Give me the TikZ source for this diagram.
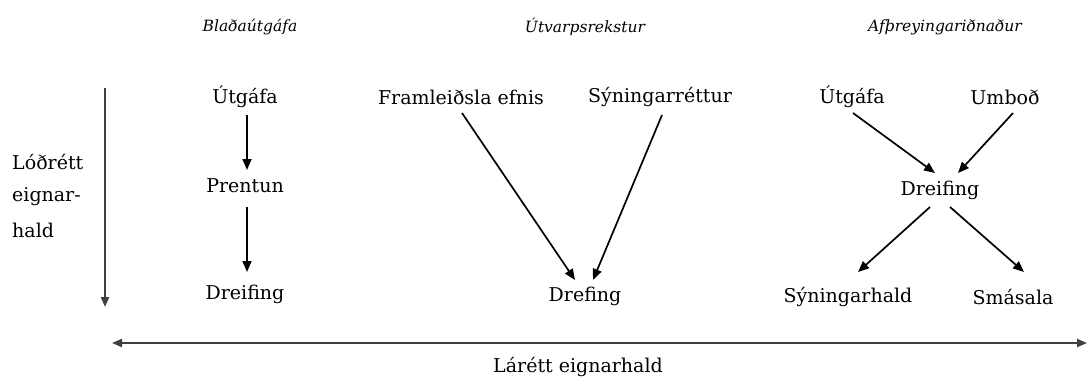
\documentclass[tikz,border=0pt]{standalone}
\usepackage{fontspec}
\setmainfont{DejaVu Serif}
\usetikzlibrary{arrows.meta}
\begin{document}
\begin{tikzpicture}[x=1pt,y=-1pt,
  lbl/.style={inner sep=0pt,font=\fontsize{19}{22}\selectfont},
  hdr/.style={inner sep=0pt,font=\fontsize{15.5}{18}\selectfont\itshape},
  arr/.style={line width=1.7pt,-{Triangle[length=11pt,width=9pt]}},
  axis/.style={line width=2pt,color=black!75}]
\useasboundingbox (0,0) rectangle (1089,383);
% headers
\node[hdr] (h1) at (250,27) {Blaðaútgáfa};
\node[hdr] (h2) at (585,27) {Útvarpsrekstur};
\node[hdr] (h3) at (945,27) {Afþreyingariðnaður};
% vertical axis
\coordinate (vt) at (105,88);
\coordinate (vb) at (105,307);
\draw[axis,-{Triangle[length=10pt,width=8pt]}] (vt) -- (vb);
\node[lbl,anchor=west] (l1) at (12,162) {Lóðrétt};
\node[lbl,anchor=west] (l2) at (12,197) {eignar-};
\node[lbl,anchor=west] (l3) at (12,230) {hald};
% column 1
\node[lbl] (a1) at (245,97) {Útgáfa};
\node[lbl] (a2) at (245,186) {Prentun};
\node[lbl] (a3) at (245,294) {Dreifing};
\draw[arr] (247,115) -- (247,170);
\draw[arr] (247,207) -- (247,272);
% column 2
\node[lbl] (b1) at (461,97) {Framleiðsla efnis};
\node[lbl] (b2) at (660,97) {Sýningarréttur};
\node[lbl] (b3) at (585,296) {Drefing};
\draw[arr] (462,113) -- (575,280);
\draw[arr] (662,115) -- (593,280);
% column 3
\node[lbl] (c1) at (852,97) {Útgáfa};
\node[lbl] (c2) at (1005,97) {Umboð};
\node[lbl] (c3) at (940,190) {Dreifing};
\node[lbl] (c4) at (848,297) {Sýningarhald};
\node[lbl] (c5) at (1013,297) {Smásala};
\draw[arr] (853,113) -- (935,173);
\draw[arr] (1013,113) -- (958,173);
\draw[arr] (930,207) -- (858,272);
\draw[arr] (950,207) -- (1024,272);
% horizontal axis
\coordinate (hl) at (112,343);
\coordinate (hr) at (1087,343);
\draw[axis,{Triangle[length=10pt,width=8pt]}-{Triangle[length=10pt,width=8pt]}] (hl) -- (hr);
\node[lbl] (ht) at (578,367) {Lárétt eignarhald};
\end{tikzpicture}
\end{document}
